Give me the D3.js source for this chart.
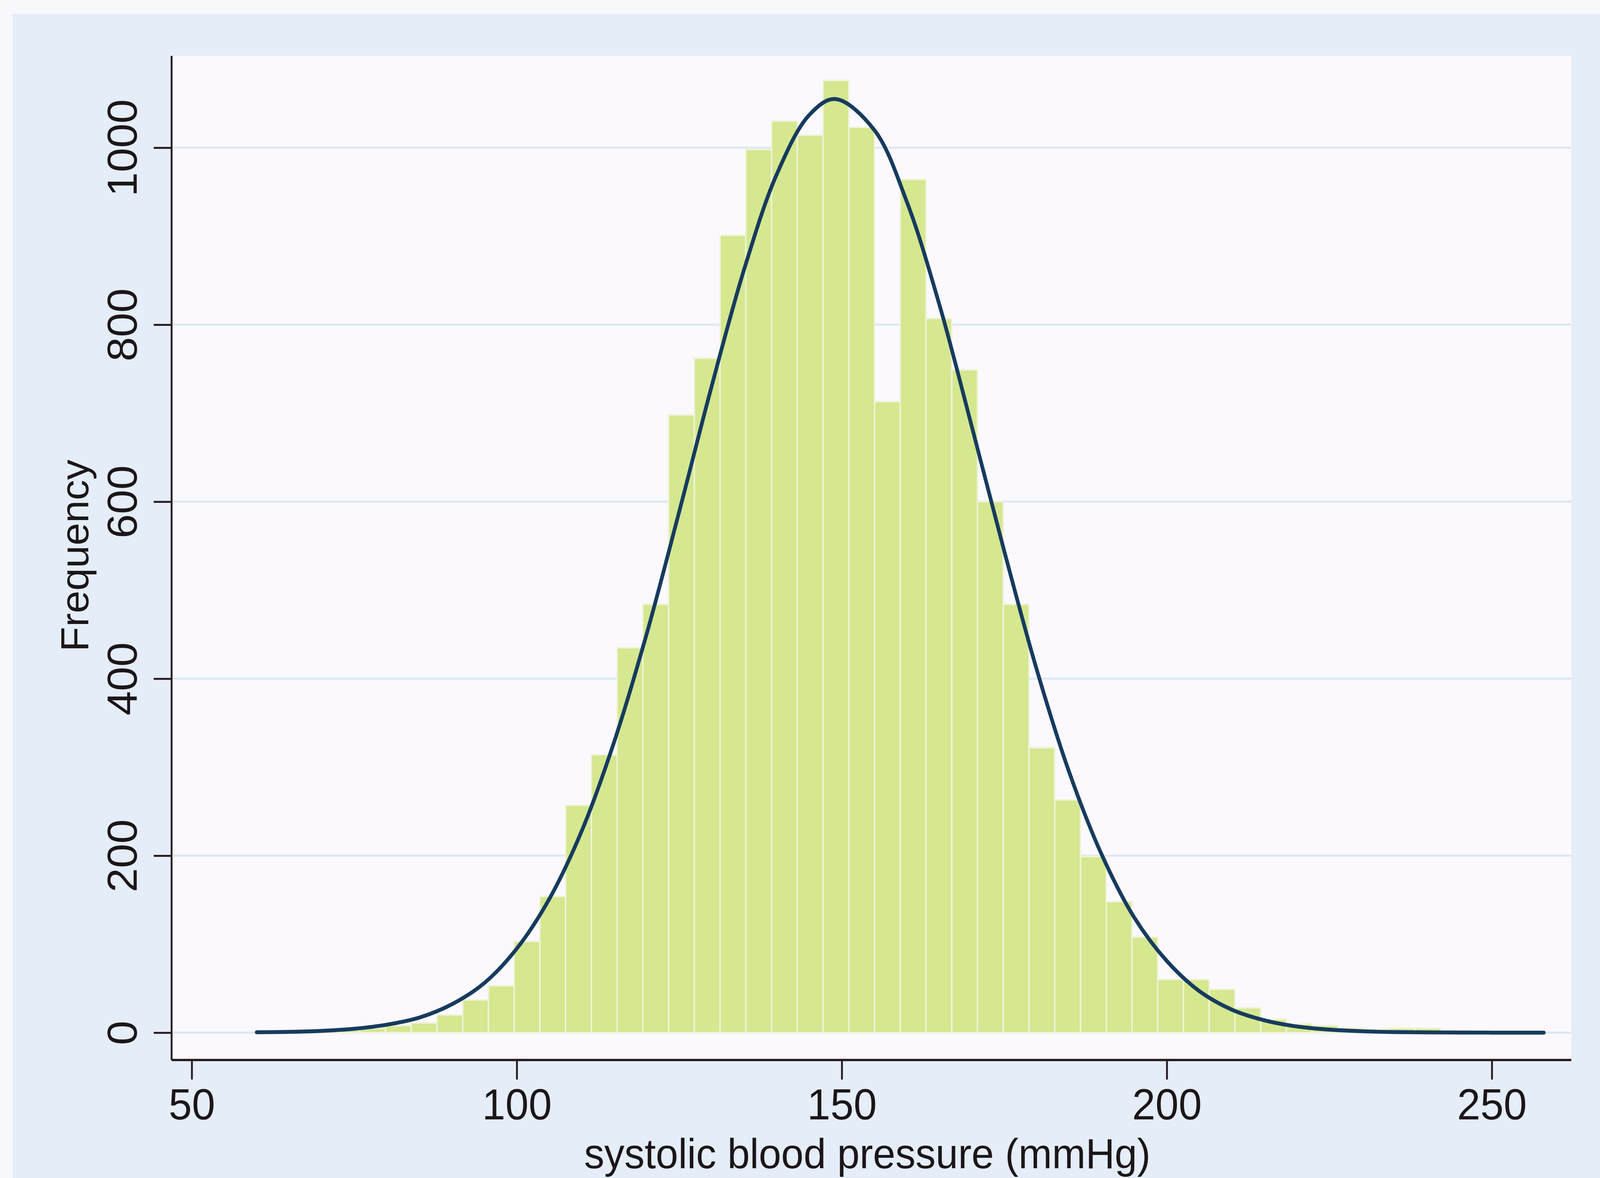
<!DOCTYPE html>
<html>
<head>
<meta charset="utf-8">
<script src="https://cdn.jsdelivr.net/npm/d3@7"></script>
<style>
  html, body { margin: 0; padding: 0; overflow: hidden; background: #f8f8fc; }
  svg { display: block; width: 100vw; height: 100vh; }
  text { font-family: "Liberation Sans", Arial, sans-serif; fill: #1c1619; }
</style>
</head>
<body>
<svg id="chart" viewBox="0 0 4289 3015" preserveAspectRatio="none"></svg>
<script>
// histogram: 50 bins starting at 60 mmHg, each ~3.96 wide
var binStart = 60;
var binWidth = 3.96;
var counts = [
    1, 1, 2, 3, 5, 8, 11, 20, 37, 53,
    103, 154, 257, 314, 435, 484, 698, 762, 901, 998,
    1030, 1014, 1076, 1023, 713, 964, 807, 749, 600, 484,
    322, 263, 199, 148, 108, 60, 60, 49, 28, 15,
    10, 8, 5, 4, 5, 5, 2, 1, 1, 1
];

// overlaid normal curve
var curveX = [60, 65, 70, 75, 80, 85, 90, 95, 100, 105, 110, 115, 120, 125, 130, 135, 140, 145, 149,
              155, 160, 165, 170, 175, 180, 185, 190, 195, 200, 205, 210, 215, 220, 225, 230, 235, 240, 250, 258];
var curveY = [0.4, 0.9, 2, 4.4, 9, 17, 32, 56, 95, 151, 228, 329, 451, 589, 731, 863, 970, 1037, 1055,
              1020, 939, 823, 685, 544, 410, 294, 201, 130, 81, 47, 26, 14, 7, 3.4, 1.6, 0.7, 0.3, 0.05, 0];

var xTicks = [50, 100, 150, 200, 250];
var yTicks = [0, 200, 400, 600, 800, 1000];

var svg = d3.select('#chart');

var plot = {left: 460, right: 4212, top: 143, bottom: 2713};

var x = d3.scaleLinear().domain([50, 250]).range([514, 3999]);
var y = d3.scaleLinear().domain([0, 1000]).range([2643, 378]);

// outer graph region and plot region
svg.append('rect')
    .attr('x', 34).attr('y', 36)
    .attr('width', 4289 - 34).attr('height', 3015 - 36)
    .attr('fill', '#e4edf8');
svg.append('rect')
    .attr('x', plot.left).attr('y', plot.top)
    .attr('width', plot.right - plot.left).attr('height', plot.bottom - plot.top)
    .attr('fill', '#fbf9fd');

// grid lines
svg.append('g')
    .selectAll('line')
    .data(yTicks)
  .enter().append('line')
    .attr('x1', plot.left).attr('x2', plot.right)
    .attr('y1', function (d) { return y(d); })
    .attr('y2', function (d) { return y(d); })
    .attr('stroke', '#dbe8f4')
    .attr('stroke-width', 5);

// bars
svg.append('g')
    .selectAll('rect')
    .data(counts)
  .enter().append('rect')
    .attr('x', function (d, i) { return x(binStart + i * binWidth); })
    .attr('width', function (d, i) { return x(binStart + (i + 1) * binWidth) - x(binStart + i * binWidth); })
    .attr('y', function (d) { return y(d); })
    .attr('height', function (d) { return y(0) - y(d); })
    .attr('fill', '#d5e78f')
    .attr('stroke', '#eef4d8')
    .attr('stroke-width', 4);

// normal density
var line = d3.line()
    .x(function (d) { return x(d[0]); })
    .y(function (d) { return y(d[1]); })
    .curve(d3.curveCatmullRom.alpha(0.5));

svg.append('path')
    .datum(d3.zip(curveX, curveY))
    .attr('d', line)
    .attr('fill', 'none')
    .attr('stroke', '#173b5e')
    .attr('stroke-width', 10)
    .attr('stroke-linecap', 'round');

// axes
var xAxis = svg.append('g')
    .attr('transform', 'translate(0,' + plot.bottom + ')')
    .call(d3.axisBottom(x).tickValues(xTicks).tickSize(50).tickPadding(22).tickFormat(d3.format('d')));
var yAxis = svg.append('g')
    .attr('transform', 'translate(' + plot.left + ',0)')
    .call(d3.axisLeft(y).tickValues(yTicks).tickSize(48).tickPadding(0).tickFormat(d3.format('d')));

[xAxis, yAxis].forEach(function (g) {
    g.select('.domain').remove();
    g.selectAll('.tick line').attr('stroke', '#2a1d22').attr('stroke-width', 5);
    g.selectAll('.tick text')
        .style('font-family', '"Liberation Sans", Arial, sans-serif')
        .attr('fill', '#1c1619');
});

xAxis.selectAll('.tick text')
    .attr('font-size', 112)
    .attr('dy', '0.71em');

yAxis.selectAll('.tick text')
    .attr('font-size', 112)
    .attr('x', 0).attr('dy', 0)
    .attr('text-anchor', 'middle')
    .attr('transform', 'translate(-94,0) rotate(-90)');

// axis lines
svg.append('line')
    .attr('x1', plot.left).attr('x2', plot.left)
    .attr('y1', plot.top).attr('y2', plot.bottom)
    .attr('stroke', '#2a1d22').attr('stroke-width', 5);
svg.append('line')
    .attr('x1', plot.left).attr('x2', plot.right)
    .attr('y1', plot.bottom).attr('y2', plot.bottom)
    .attr('stroke', '#2a1d22').attr('stroke-width', 6);

// titles
svg.append('text')
    .attr('x', 2325).attr('y', 2990)
    .attr('text-anchor', 'middle')
    .attr('font-size', 108)
    .text('systolic blood pressure (mmHg)');

svg.append('text')
    .attr('transform', 'translate(237,1422) rotate(-90)')
    .attr('text-anchor', 'middle')
    .attr('font-size', 104)
    .text('Frequency');
</script>
</body>
</html>
